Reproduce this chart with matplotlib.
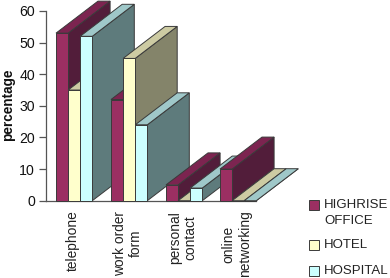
import matplotlib
matplotlib.use("Agg")
import matplotlib.pyplot as plt
from matplotlib.patches import Polygon, Rectangle

plt.rcParams['font.family'] = ['Liberation Sans', 'DejaVu Sans']

categories = ["telephone", "work order\nform", "personal\ncontact", "online\nnetworking"]
series = ["HIGHRISE\nOFFICE", "HOTEL", "HOSPITAL"]
highrise = [53, 32, 5, 10]
hotel = [35, 45, 0, 0]
hospital = [52, 24, 4, 0]
yticks = [0, 10, 20, 30, 40, 50, 60]

W, H = 390, 278
fig = plt.figure(figsize=(W / 100, H / 100), dpi=100)
fig.patch.set_facecolor("white")

# axes: spine at px 46, y=0 at px 200.7, y=60 at px 11
left, right, y0, y60 = 46, 390, 200.7, 11
ax = fig.add_axes([left / W, 1 - y0 / H, (right - left) / W, (y0 - y60) / H])
BAR_PX = 12.1
ax.set_xlim(0, (right - left) / BAR_PX)
ax.set_ylim(0, 60)
ax.patch.set_alpha(0)
for s in ("top", "right", "bottom"):
    ax.spines[s].set_visible(False)
EDGE = "#3a3a3a"
ax.spines["left"].set_color("#555555")
ax.spines["left"].set_linewidth(0.9)
ax.spines["left"].set_zorder(0)

DX = 42 / BAR_PX
DY = 32 / ((y0 - y60) / 60)
START = [(56 - left) / BAR_PX, (111 - left) / BAR_PX, (166 - left) / BAR_PX, (220 - left) / BAR_PX]

styles = [("#9b2f62", "#7c2450", "#521d3a"),
          ("#ffffcc", "#cdcba3", "#84846a"),
          ("#ccffff", "#9fc8c9", "#5e7b7c")]

z = 1
ax.plot([0, START[3] + 3], [0, 0], color="#555555", lw=0.9, clip_on=False, zorder=0)
for g, x0 in enumerate(START):
    for k, vals in enumerate((highrise, hotel, hospital)):
        v = vals[g]
        x = x0 + k
        front, top, side = styles[k]
        polys = [
            ([(x + 1, 0), (x + 1 + DX, DY), (x + 1 + DX, v + DY), (x + 1, v)], side),
            ([(x, v), (x + DX, v + DY), (x + 1 + DX, v + DY), (x + 1, v)], top),
            ([(x, 0), (x + 1, 0), (x + 1, v), (x, v)], front),
        ]
        for pts, col in polys:
            ax.add_patch(Polygon(pts, closed=True, facecolor=col, edgecolor=EDGE,
                                 linewidth=0.7, clip_on=False, zorder=z))
            z += 1

ax.set_yticks(yticks)
ax.tick_params(axis="y", length=5, width=0.9, color="#555555", labelsize=10.2,
               pad=3, labelcolor="#111111")
ax.set_xticks([])
fig.text(8.5 / W, 1 - 105 / H, "percentage", rotation=90, ha="center", va="center",
         fontsize=9.8, fontweight="bold", color="#111111")

for x0, c in zip(START, categories):
    ax.annotate(c, xy=(x0 + 1.5, 0), xycoords="data", xytext=(-1.5, -10),
                textcoords="offset pixels", rotation=90, ha="center", va="top",
                rotation_mode="default", multialignment="center", fontsize=9.9,
                color="#222222", linespacing=1.18)

# legend
legend_y = [205, 245, 271]
for lab, ly, st in zip(series, legend_y, styles):
    fig.add_artist(Rectangle((309 / W, 1 - (ly + 5) / H), 10 / W, 10 / H,
                             transform=fig.transFigure, facecolor=st[0],
                             edgecolor=EDGE, linewidth=0.7))
    fig.text(324 / W, 1 - (ly - 6.5) / H, lab, ha="left", va="top", fontsize=9.5,
             color="#222222", linespacing=1.5)

fig.savefig("out.png", dpi=100)
